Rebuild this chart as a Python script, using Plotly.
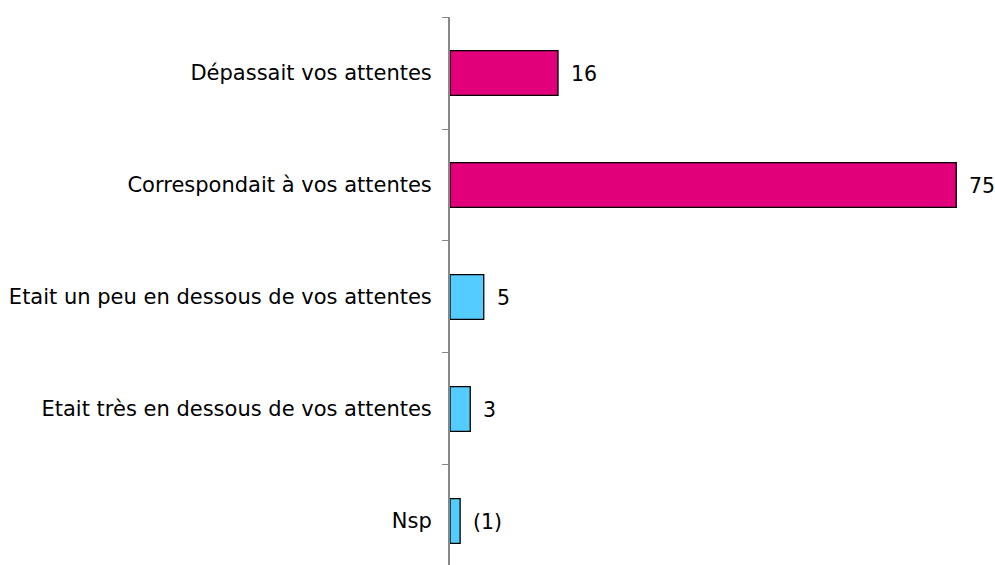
import plotly.graph_objects as go

categories = [
    "Dépassait vos attentes",
    "Correspondait à vos attentes",
    "Etait un peu en dessous de vos attentes",
    "Etait très en dessous de vos attentes",
    "Nsp",
]
values = [16, 75, 5, 3, 1.5]
value_labels = ["16", "75", "5", "3", "(1)"]
colors = ["#E2007A", "#E2007A", "#55CCFF", "#55CCFF", "#55CCFF"]

FONT = "DejaVu Sans"

fig = go.Figure()
fig.add_trace(go.Bar(
    x=values,
    y=categories,
    orientation="h",
    marker=dict(color=colors, line=dict(color="#000000", width=1.3)),
    width=0.4,
    hoverinfo="skip",
))

for c, v, t in zip(categories, values, value_labels):
    fig.add_annotation(
        x=v, y=c, text=t, showarrow=False, xanchor="left", xshift=11, yshift=-1,
        font=dict(family=FONT, size=20.5, color="#000000"),
    )

fig.update_layout(
    width=995,
    height=565,
    margin=dict(l=450, r=5, t=17, b=0),
    paper_bgcolor="white",
    plot_bgcolor="white",
    showlegend=False,
    font=dict(family=FONT, size=21, color="#000000"),
    xaxis=dict(
        range=[0, 80],
        showgrid=False,
        zeroline=False,
        showticklabels=False,
        showline=False,
        ticks="",
    ),
    yaxis=dict(
        type="category",
        categoryorder="array",
        categoryarray=categories,
        range=[4.393, -0.5],
        showgrid=False,
        zeroline=False,
        showline=True,
        linecolor="#888888",
        linewidth=2,
        ticks="outside",
        tickson="boundaries",
        ticklen=6,
        tickcolor="#888888",
        tickwidth=1,
        ticklabelstandoff=12,
    ),
)

fig.write_html(
    "out.html",
    config={"displayModeBar": False},
    post_script="document.body.style.margin='0';",
)
